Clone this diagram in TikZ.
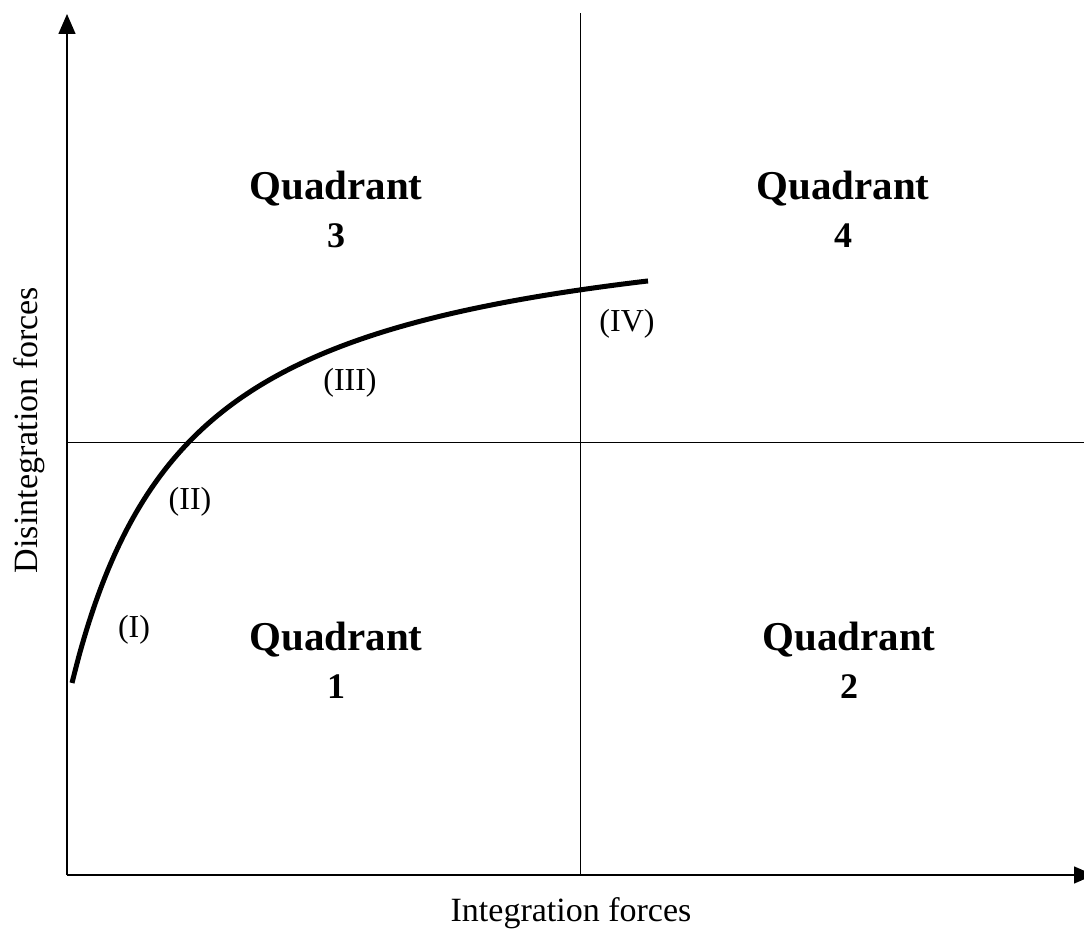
\documentclass[tikz,border=0pt]{standalone}
\usepackage{fontspec}
\setmainfont{Liberation Serif}
\usetikzlibrary{arrows.meta}
\begin{document}
\begin{tikzpicture}[x=1pt,y=1pt,
  axis/.style={line width=1.4pt,-{Triangle[length=20pt,width=17pt]}},
  divider/.style={line width=1pt},
  curvestyle/.style={line width=5pt},
  quadlbl/.style={font=\fontsize{41}{48}\selectfont\bfseries,anchor=base},
  quadnum/.style={font=\fontsize{36}{42}\selectfont\bfseries,anchor=base},
  phaselbl/.style={font=\fontsize{32}{36}\selectfont,anchor=base},
  axislbl/.style={font=\fontsize{34}{40}\selectfont,anchor=base}]
\useasboundingbox (0,0) rectangle (1084,930);
\coordinate (O) at (67,55);
\coordinate (Ytop) at (67,916);
\coordinate (Xend) at (1094,55);
\coordinate (Vtop) at (580,917);
\coordinate (Vbot) at (580,55);
\coordinate (Hl) at (67,487);
\coordinate (Hr) at (1084,487);
\draw[divider] (Vbot) -- (Vtop);
\draw[divider] (Hl) -- (Hr);
\draw[axis] (O) -- (Ytop);
\draw[axis] (O) -- (Xend);
\draw[curvestyle] plot[domain=72:648,samples=80,smooth] ({\x},{731.5-572.38/((\x+46.15)/100)});
\node[quadlbl] (q3) at (336,730) {Quadrant};
\node[quadnum] (n3) at (336,682) {3};
\node[quadlbl] (q4) at (843,730) {Quadrant};
\node[quadnum] (n4) at (843,682) {4};
\node[quadlbl] (q1) at (336,280) {Quadrant};
\node[quadnum] (n1) at (336,232) {1};
\node[quadlbl] (q2) at (849,280) {Quadrant};
\node[quadnum] (n2) at (849,232) {2};
\node[phaselbl] (p1) at (134,293) {(I)};
\node[phaselbl] (p2) at (190,420) {(II)};
\node[phaselbl] (p3) at (350,539) {(III)};
\node[phaselbl] (p4) at (627,598) {(IV)};
\node[axislbl] (xl) at (571,9) {Integration forces};
\node[axislbl,rotate=90] (yl) at (37,500) {Disintegration forces};
\end{tikzpicture}
\end{document}
